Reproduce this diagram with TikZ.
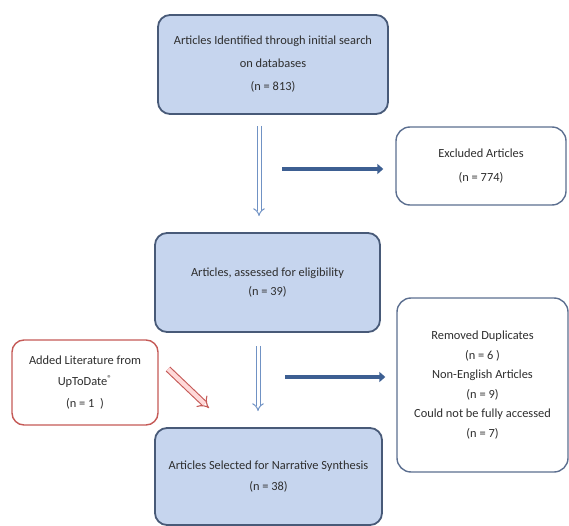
\documentclass[tikz,border=0pt]{standalone}
\usepackage{fontspec}
\setmainfont{Carlito}
\usetikzlibrary{arrows.meta}
\definecolor{boxfill}{HTML}{C6D5EE}
\definecolor{boxline}{HTML}{485A78}
\definecolor{wline}{HTML}{5C6F90}
\definecolor{redline}{HTML}{C55A57}
\definecolor{hollowblue}{HTML}{7092C4}
\definecolor{thickblue}{HTML}{3D5F92}
\definecolor{txt}{HTML}{2E2E2E}
\begin{document}
\begin{tikzpicture}[x=1pt,y=-1pt,
  base/.style={inner sep=0pt, align=center, text=txt},
  bluebox/.style={base, draw=boxline, line width=1.8pt, fill=boxfill, rounded corners=12pt},
  whitebox/.style={base, draw=wline, line width=1.4pt, fill=white, rounded corners=14pt},
  redbox/.style={base, draw=redline, line width=1.4pt, fill=white, rounded corners=12pt},
  hollow/.style={draw=hollowblue, line width=1pt, double=white, double distance=3pt, -{Implies}},
  hollowred/.style={draw=redline, line width=1.1pt, double=white!85!red, double distance=4.3pt, -{Implies}},
  thickarrow/.style={draw=thickblue, line width=4.5pt, -{Triangle[length=6pt,width=10pt]}},
  f23/.style={font=\fontsize{12.4}{23}\selectfont},
  f24/.style={font=\fontsize{12.4}{24.5}\selectfont},
  f21/.style={font=\fontsize{12.4}{21.5}\selectfont},
  f18/.style={font=\fontsize{12.4}{18.5}\selectfont},
  f19/.style={font=\fontsize{12.4}{19.6}\selectfont}
]
\useasboundingbox (0,0) rectangle (569,526);

\node[bluebox, f23, minimum width=230pt, minimum height=99pt] (ident) at (273,64.5)
  {Articles Identified through initial search\\on databases\\(n = 813)};
\node[whitebox, f24, minimum width=170pt, minimum height=78pt] (excl) at (481,166)
  {Excluded Articles\\(n = 774)};
\node[bluebox, f18, minimum width=225pt, minimum height=99pt] (assess) at (267.5,282.5)
  {Articles, assessed for eligibility\\(n = 39)};
\node[whitebox, f19, minimum width=171pt, minimum height=174pt] (removed) at (482.5,385)
  {Removed Duplicates\\(n = 6 )\\Non-English Articles\\(n = 9)\\Could not be fully accessed\\(n = 7)};
\node[redbox, f21, minimum width=146pt, minimum height=85pt] (added) at (85,382.5)
  {Added Literature from\\UpToDate\textsuperscript{®}\\(n = 1 \ )};
\node[bluebox, f21, minimum width=227pt, minimum height=97pt] (select) at (268.5,476.5)
  {Articles Selected for Narrative Synthesis\\(n = 38)};

\coordinate (colA) at (259,0);
\coordinate (colB) at (258,0);
\coordinate (t1s) at (282,169);
\coordinate (t2s) at (285,377);
\coordinate (r1s) at (168,369);
\coordinate (r1e) at (209,408);

\draw[hollow, shorten <=11pt, shorten >=16pt] (ident.south -| colA) -- (assess.north -| colA);
\draw[hollow, shorten <=13pt, shorten >=16pt] (assess.south -| colB) -- (select.north -| colB);
\draw[thickarrow, shorten >=12pt] (t1s) -- (t1s -| excl.west);
\draw[thickarrow, shorten >=11pt] (t2s) -- (t2s -| removed.west);
\draw[hollowred] (r1s) -- (r1e);
\end{tikzpicture}
\end{document}
